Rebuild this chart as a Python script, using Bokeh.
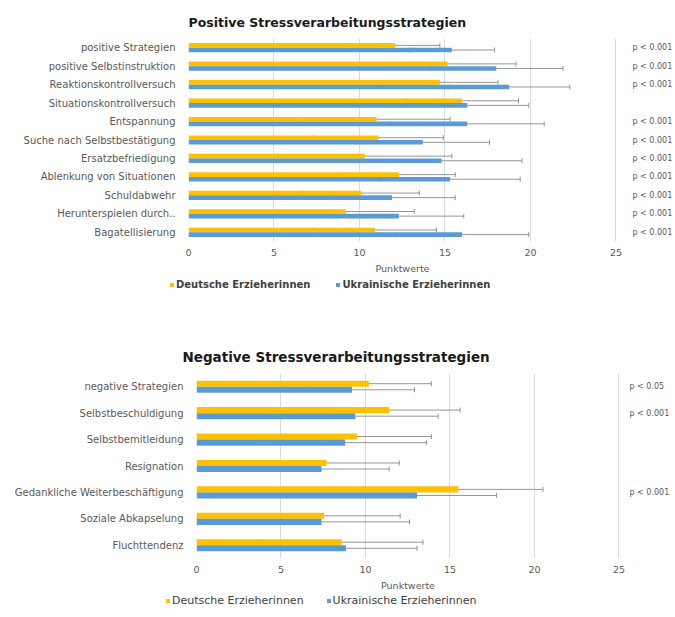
from bokeh.plotting import figure
from bokeh.models import (ColumnDataSource, Range1d, FixedTicker, Whisker, TeeHead,
                          Legend, LegendItem, Title, LinearAxis)
from bokeh.embed import file_html
from bokeh.resources import INLINE

# ---------------- data ----------------
cats_pos = ["positive Strategien", "positive Selbstinstruktion", "Reaktionskontrollversuch",
            "Situationskontrollversuch", "Entspannung", "Suche nach Selbstbestätigung",
            "Ersatzbefriedigung", "Ablenkung von Situationen", "Schuldabwehr",
            "Herunterspielen durch..", "Bagatellisierung"]
de_pos_mean = [12.1, 15.15, 14.7, 16.0, 11.0, 11.1, 10.3, 12.3, 10.1, 9.2, 10.9]
de_pos_sd = [2.6, 4.0, 3.4, 3.3, 4.3, 3.8, 5.1, 3.3, 3.4, 4.0, 3.6]
ua_pos_mean = [15.4, 18.0, 18.75, 16.3, 16.3, 13.7, 14.8, 15.3, 11.9, 12.3, 16.0]
ua_pos_sd = [2.5, 3.9, 3.55, 3.6, 4.5, 3.9, 4.7, 4.1, 3.7, 3.8, 3.9]
p_pos = ["p < 0.001", "p < 0.001", "p < 0.001", "", "p < 0.001", "p < 0.001",
         "p < 0.001", "p < 0.001", "p < 0.001", "p < 0.001", "p < 0.001"]

cats_neg = ["negative Strategien", "Selbstbeschuldigung", "Selbstbemitleidung", "Resignation",
            "Gedankliche Weiterbeschäftigung", "Soziale Abkapselung", "Fluchttendenz"]
de_neg_mean = [10.2, 11.4, 9.5, 7.7, 15.5, 7.55, 8.6]
de_neg_sd = [3.7, 4.2, 4.4, 4.3, 5.0, 4.5, 4.8]
ua_neg_mean = [9.2, 9.4, 8.8, 7.4, 13.05, 7.4, 8.85]
ua_neg_sd = [3.7, 4.9, 4.8, 4.0, 4.7, 5.2, 4.2]
p_neg = ["p < 0.05", "p < 0.001", "", "", "p < 0.001", "", ""]

x_ticks = [0, 5, 10, 15, 20, 25]
series_names = ["Deutsche Erzieherinnen", "Ukrainische Erzieherinnen"]
title_pos = "Positive Stressverarbeitungsstrategien"
title_neg = "Negative Stressverarbeitungsstrategien"
x_title = "Punktwerte"

YELLOW = "#FFC000"
BLUE = "#5B9BD5"
ERR = "#8a8a8a"
TXT = "#595959"
FONT = "DejaVu Sans"


def make_chart(title, cats, de_m, de_s, ua_m, ua_s, pvals, width, height, left, right, top, bottom,
               bar_h, title_size, title_offset, title_standoff, p_standoff):
    n = len(cats)
    d = bar_h / 2
    ypos = [n - 1 - i for i in range(n)]          # first category on top
    src = ColumnDataSource(dict(
        y_de=[y + d for y in ypos], y_ua=[y - d for y in ypos], de=de_m, ua=ua_m,
        de_lo=[m - s for m, s in zip(de_m, de_s)], de_hi=[m + s for m, s in zip(de_m, de_s)],
        ua_lo=[m - s for m, s in zip(ua_m, ua_s)], ua_hi=[m + s for m, s in zip(ua_m, ua_s)],
    ))
    p = figure(width=width, height=height, output_backend="svg", toolbar_location=None,
               y_range=Range1d(-0.5, n - 0.5), x_range=Range1d(0, 25.03),
               min_border_left=left, min_border_right=right, min_border_top=top,
               min_border_bottom=bottom)
    p.title = None
    t = Title(text=title, align="left", offset=title_offset, text_font=FONT,
              text_font_size=title_size, text_font_style="bold", text_color="#1a1a1a",
              standoff=title_standoff)
    p.add_layout(t, "above")
    p.outline_line_color = None
    p.background_fill_color = "white"
    p.border_fill_color = "white"

    p.hbar(y="y_de", right="de", left=0, height=bar_h, source=src,
           fill_color=YELLOW, line_color=None)
    p.hbar(y="y_ua", right="ua", left=0, height=bar_h, source=src,
           fill_color=BLUE, line_color=None)

    for base, lo, hi in [("y_de", "de_lo", "de_hi"), ("y_ua", "ua_lo", "ua_hi")]:
        w = Whisker(source=src, base=base, lower=lo, upper=hi,
                    dimension="width", line_color=ERR, line_width=0.9,
                    upper_head=TeeHead(size=5, line_color=ERR, line_width=0.9),
                    lower_head=TeeHead(size=5, line_color=ERR, line_width=0.9))
        p.add_layout(w)

    ya = p.yaxis[0]
    ya.ticker = FixedTicker(ticks=ypos, minor_ticks=[])
    ya.major_label_overrides = {y: c for y, c in zip(ypos, cats)}
    ya.axis_line_color = None
    ya.major_tick_line_color = None
    ya.minor_tick_line_color = None
    ya.major_label_standoff = 7
    ya.major_label_text_font = FONT
    ya.major_label_text_font_size = "10px"
    ya.major_label_text_color = TXT

    pv_ticks = [y for y, t_ in zip(ypos, pvals) if t_]
    pax = LinearAxis(ticker=FixedTicker(ticks=pv_ticks, minor_ticks=[]),
                     major_label_overrides={y: t_ for y, t_ in zip(ypos, pvals) if t_})
    pax.axis_line_color = None
    pax.major_tick_line_color = None
    pax.minor_tick_line_color = None
    pax.major_label_standoff = p_standoff
    pax.major_label_text_font = FONT
    pax.major_label_text_font_size = "8px"
    pax.major_label_text_color = TXT
    p.add_layout(pax, "right")

    p.xaxis.ticker = FixedTicker(ticks=x_ticks)
    p.xaxis.axis_line_color = None
    p.xaxis.major_tick_line_color = None
    p.xaxis.minor_tick_line_color = None
    p.xaxis.major_label_standoff = 1
    p.xaxis.major_label_text_font = FONT
    p.xaxis.major_label_text_font_size = "9.5px"
    p.xaxis.major_label_text_color = TXT
    p.xaxis.axis_label = x_title
    p.xaxis.axis_label_text_font = FONT
    p.xaxis.axis_label_text_font_size = "9.5px"
    p.xaxis.axis_label_text_font_style = "normal"
    p.xaxis.axis_label_text_color = TXT
    p.xaxis.axis_label_standoff = 4

    p.xgrid.grid_line_color = "#d9d9d9"
    p.ygrid.grid_line_color = None
    return p


def make_legend(width, height, x, y, bold, size, spacing):
    lf = figure(width=width, height=height, output_backend="svg", toolbar_location=None,
                x_range=Range1d(0, 1), y_range=Range1d(0, 1), min_border=0,
                x_axis_location=None, y_axis_location=None)
    lf.outline_line_color = None
    lf.grid.grid_line_color = None
    lf.background_fill_color = "white"
    lf.border_fill_color = "white"
    # swatch renderers placed far outside the frame; only their legend squares are seen
    r1 = lf.hbar(y=[50], left=[50], right=[51], height=0.5, fill_color=YELLOW, line_color=None)
    r2 = lf.hbar(y=[50], left=[50], right=[51], height=0.5, fill_color=BLUE, line_color=None)
    lg = Legend(items=[LegendItem(label=series_names[0], renderers=[r1]),
                       LegendItem(label=series_names[1], renderers=[r2])],
                orientation="horizontal", location=(x, y),
                border_line_color=None, background_fill_alpha=0,
                glyph_width=5, glyph_height=5, label_standoff=2, spacing=spacing,
                label_text_font=FONT, label_text_font_size=size,
                label_text_font_style="bold" if bold else "normal",
                label_text_color="#404040", padding=0, margin=0, label_height=5)
    lf.add_layout(lg, "center")
    return lf


p1 = make_chart(title_pos, cats_pos, de_pos_mean, de_pos_sd, ua_pos_mean, ua_pos_sd, p_pos,
                width=675, height=278, left=188, right=53, top=38, bottom=37,
                bar_h=0.25, title_size="12.5px", title_offset=0, title_standoff=17, p_standoff=10)
l1 = make_legend(675, 20, 169, 8, True, "10px", 25)
p2 = make_chart(title_neg, cats_neg, de_neg_mean, de_neg_sd, ua_neg_mean, ua_neg_sd, p_neg,
                width=675, height=297, left=196, right=56, top=75, bottom=37,
                bar_h=0.23, title_size="13.5px", title_offset=-14, title_standoff=17, p_standoff=4)
l2 = make_legend(675, 18, 165, 6, False, "11px", 22)

open("out.html", "w").write(file_html([p1, l1, p2, l2], INLINE))
